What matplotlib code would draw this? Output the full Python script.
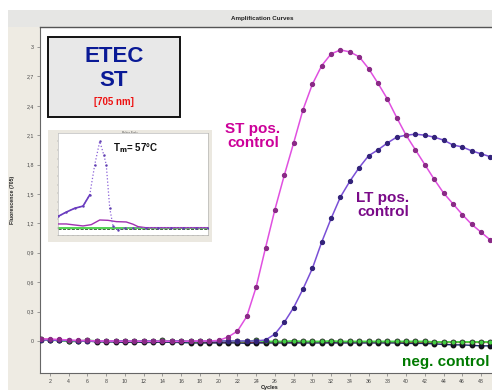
import matplotlib
matplotlib.use('Agg')
import matplotlib.pyplot as plt
from matplotlib.patches import Rectangle

plt.rcParams['font.family'] = ['Liberation Sans', 'DejaVu Sans']

# Amplification data, cycles 1..49
cycles = list(range(1, 50))

st_pos = [0.02, 0.02, 0.015, 0.01, 0.005, 0.005, 0.0, 0.0, 0.0, -0.005,
          0.0, -0.005, -0.005, 0.0, -0.005, -0.005, 0.0, 0.0, 0.0, 0.005,
          0.04, 0.10, 0.25, 0.55, 0.95, 1.34, 1.69, 2.02, 2.36, 2.62,
          2.81, 2.93, 2.97, 2.95, 2.90, 2.78, 2.63, 2.47, 2.28, 2.10,
          1.95, 1.80, 1.65, 1.51, 1.40, 1.29, 1.19, 1.11, 1.03]

lt_pos = [0.01, 0.01, 0.005, 0.005, 0.0, 0.0, 0.0, -0.005, 0.0, 0.0,
          -0.005, 0.0, 0.0, -0.005, 0.0, 0.0, -0.005, 0.0, 0.0, 0.0,
          0.0, 0.0, 0.0, 0.0, 0.01, 0.07, 0.19, 0.34, 0.53, 0.74,
          1.01, 1.25, 1.47, 1.63, 1.77, 1.89, 1.95, 2.02, 2.08, 2.10,
          2.11, 2.10, 2.08, 2.05, 2.00, 1.98, 1.94, 1.91, 1.88]

neg_green = [0.01, 0.01, 0.005, 0.0, 0.0, 0.005, 0.0, -0.005, 0.0, 0.0,
             -0.005, 0.0, -0.005, 0.005, -0.005, 0.0, -0.005, -0.005, 0.0, 0.0,
             0.0, -0.005, -0.005, 0.005, -0.005, -0.005, -0.005, 0.0, -0.005, -0.005,
             -0.005, 0.0, -0.005, -0.005, -0.005, -0.005, -0.005, -0.005, -0.005, -0.005,
             -0.005, -0.005, -0.01, -0.01, -0.01, -0.01, -0.01, -0.01, -0.01]

neg_red = [0.02, 0.015, 0.01, 0.005, 0.0, 0.0, -0.005, -0.005, -0.005, -0.01,
           -0.01, -0.01, -0.01, -0.01, -0.01, -0.01, -0.015, -0.015, -0.015, -0.015,
           -0.015, -0.015, -0.015, -0.015, -0.015, -0.015, -0.015, -0.015, -0.015, -0.015,
           -0.015, -0.015, -0.015, -0.015, -0.015, -0.015, -0.015, -0.015, -0.015, -0.015,
           -0.015, -0.015, -0.015, -0.015, -0.015, -0.015, -0.015, -0.015, -0.015]

neg_dark = [0.015, 0.01, 0.005, -0.005, -0.005, 0.0, -0.01, -0.01, -0.01, -0.015,
            -0.01, -0.015, -0.015, -0.01, -0.015, -0.015, -0.02, -0.02, -0.02, -0.02,
            -0.02, -0.02, -0.025, -0.02, -0.02, -0.02, -0.02, -0.02, -0.02, -0.02,
            -0.02, -0.02, -0.02, -0.02, -0.02, -0.02, -0.02, -0.02, -0.02, -0.025,
            -0.025, -0.025, -0.03, -0.035, -0.04, -0.04, -0.045, -0.05, -0.05]

# Melting curve (inset)
melt_temp = [40, 43.3, 46.7, 50, 52.7, 54.7, 56.7, 58.3, 59.3, 60.7, 62, 64, 66.7,
             70, 75, 80, 85, 90, 95, 100]
melt_lt = [0.13, 0.18, 0.225, 0.25, 0.38, 0.73, 1.0, 0.845, 0.73, 0.225, 0.02, -0.027, 0.0,
           0.0, 0.0, 0.0, 0.0, 0.0, 0.0, 0.0]
melt_st_temp = [40, 43.3, 46.7, 50, 53.3, 56.7, 60, 63.3, 67.3, 70, 72, 75, 80, 85, 90, 95, 100]
melt_st = [0.043, 0.043, 0.031, 0.02, 0.035, 0.089, 0.085, 0.07, 0.066, 0.04, 0.012,
           0.0, 0.0, 0.0, 0.0, 0.0, 0.0]

y_ticks = [0, 0.3, 0.6, 0.9, 1.2, 1.5, 1.8, 2.1, 2.4, 2.7, 3.0]
y_tick_labels = ['0', '0,3', '0,6', '0,9', '1,2', '1,5', '1,8', '2,1', '2,4', '2,7', '3']
x_ticks = list(range(2, 50, 2))

W, H = 492, 390
beige = '#eeebe3'


def fx(px):
    return px / W


def fy(py):
    return 1 - py / H


fig = plt.figure(figsize=(W / 100, H / 100), dpi=100)
fig.patch.set_facecolor('white')

# window chrome: beige panel and grey title bar
fig.add_artist(Rectangle((fx(8), 0), 1 - fx(8), fy(27), transform=fig.transFigure,
                         facecolor=beige, edgecolor='none', zorder=0))
fig.add_artist(Rectangle((fx(8), fy(27)), 1 - fx(8), fy(10) - fy(27), transform=fig.transFigure,
                         facecolor='#e6e6e4', edgecolor='none', zorder=0))
fig.text(fx(262), fy(18.5), 'Amplification Curves', ha='center', va='center',
         fontsize=4.5, fontweight='bold', color='#222222')

ax = fig.add_axes([fx(39.5), fy(373), 1 - fx(39.5), fy(27) - fy(373)])
ax.set_facecolor('white')

ax.plot(cycles, neg_red, color='#dd2222', lw=1.0, zorder=2)
ax.plot(cycles, neg_dark, color='#1a2a6a', lw=1.0, marker='o', ms=3.2,
        mfc='#111133', mec='#111111', zorder=3)
ax.plot(cycles, neg_green, color='#44dd44', lw=1.3, marker='o', ms=3.6,
        mfc='#44cc44', mec='#222222', mew=0.6, zorder=4)
ax.plot(cycles, lt_pos, color='#7a4fd6', lw=1.1, marker='o', ms=2.8,
        mfc='#33237a', mec='#33237a', zorder=5)
ax.plot(cycles, st_pos, color='#e050e0', lw=1.1, marker='o', ms=2.8,
        mfc='#8a2a86', mec='#8a2a86', zorder=6)

ax.set_xlim(0.88, 49.17)
ax.set_ylim(-0.327, 3.204)
ax.set_xticks(x_ticks)
ax.set_xticklabels([str(c) for c in x_ticks])
ax.set_yticks(y_ticks)
ax.set_yticklabels(y_tick_labels)
ax.tick_params(axis='both', labelsize=3.8, labelcolor='#444444', color='#777777',
               length=2, width=0.5, pad=2)
for side in ['left', 'bottom']:
    ax.spines[side].set_color('#666666')
    ax.spines[side].set_linewidth(0.8)
ax.spines['top'].set_color('#555555')
ax.spines['top'].set_linewidth(1.0)
ax.spines['right'].set_visible(False)

fig.text(fx(13), fy(200), 'Fluorescence (705)', rotation=90, ha='center', va='center',
         fontsize=3.8, fontweight='bold', color='#222222')
fig.text(fx(270), fy(387), 'Cycles', ha='center', va='center',
         fontsize=4, fontweight='bold', color='#222222')

# labels for the curves
fig.text(fx(253), fy(136), 'ST pos.\ncontrol', ha='center', va='center',
         fontsize=11, fontweight='bold', color='#cc0099', linespacing=1.0, zorder=8)
fig.text(fx(383), fy(205), 'LT pos.\ncontrol', ha='center', va='center',
         fontsize=11, fontweight='bold', color='#7a0a88', linespacing=1.0, zorder=8)
fig.text(fx(489), fy(362), 'neg. control', ha='right', va='center',
         fontsize=11, fontweight='bold', color='#007a00', zorder=8)

# ETEC ST label box
fig.add_artist(Rectangle((fx(48), fy(117)), fx(180) - fx(48), fy(37) - fy(117),
                         transform=fig.transFigure, facecolor='#e8e8e8',
                         edgecolor='#111111', lw=1.4, zorder=7))
fig.text(fx(114), fy(57), 'ETEC', ha='center', va='center', fontsize=16,
         fontweight='bold', color='#0a1a96', zorder=8)
fig.text(fx(114), fy(81), 'ST', ha='center', va='center', fontsize=16,
         fontweight='bold', color='#0a1a96', zorder=8)
fig.text(fx(114), fy(102), '[705 nm]', ha='center', va='center', fontsize=7,
         fontweight='bold', color='#ee1111', zorder=8)

# inset: melting curve
frame = fig.add_axes([fx(48), fy(242), fx(212) - fx(48), fy(130) - fy(242)])
frame.set_facecolor('#ebe8e0')
frame.set_xticks([])
frame.set_yticks([])
for s in frame.spines.values():
    s.set_visible(False)
frame.text(0.5, 0.975, 'Melting Peaks', transform=frame.transAxes, ha='center',
           va='center', fontsize=1.8, color='#555555')

inset = fig.add_axes([fx(58), fy(235), fx(208) - fx(58), fy(133) - fy(235)])
inset.set_facecolor('white')
inset.axhline(0, color='#33cc33', lw=1.2, zorder=2)
inset.axhline(-0.01, color='#225522', lw=0.6, ls='--', zorder=2)
inset.plot(melt_st_temp, melt_st, color='#a030b0', lw=1.0, zorder=3)
inset.plot(melt_temp, melt_lt, color='#8a60d8', lw=0.9, ls=':', marker='.', ms=1.5,
           mfc='#6040b0', mec='#6040b0', zorder=4)
inset.plot(melt_temp[:5], melt_lt[:5], color='#6a3cc0', lw=1.2, zorder=4)
inset.set_xlim(40, 100)
inset.set_ylim(-0.085, 1.097)
inset.set_xticks(list(range(40, 101, 2)))
inset.set_yticks([i * 0.1 for i in range(0, 11)])
inset.tick_params(axis='both', labelsize=1.5, length=1, width=0.3, color='#888888',
                  labelcolor='#777777', pad=0.5)
inset.set_xticklabels([])
inset.set_yticklabels([])
for s in inset.spines.values():
    s.set_color('#aaaaaa')
    s.set_linewidth(0.4)
fig.text(fx(113), fy(148.5), r'T$_\mathbf{m}$= 57°C', ha='left', va='center',
         fontsize=7, fontweight='bold', color='#111111')

fig.savefig('out.png', dpi=100)
